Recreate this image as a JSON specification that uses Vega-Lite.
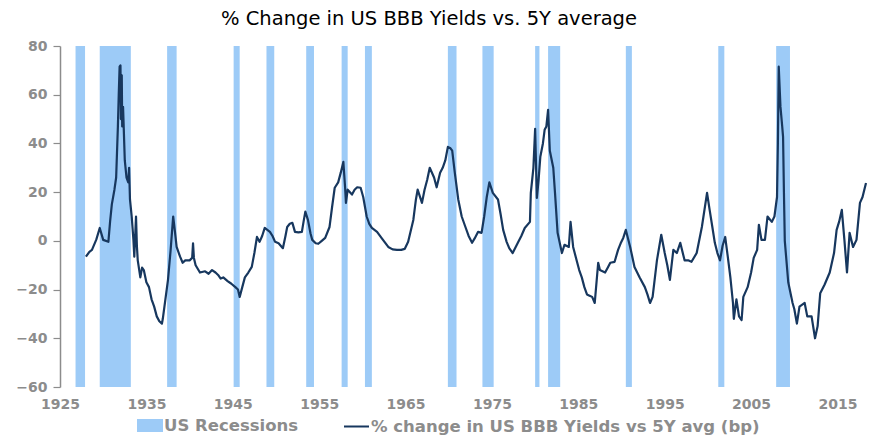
{
  "$schema": "https://vega.github.io/schema/vega-lite/v6.json",
  "autosize": {"type": "none"},
  "padding": {"left": 60, "top": 46, "right": 3, "bottom": 48},
  "width": 806,
  "height": 341,
  "background": "white",
  "title": {
    "text": "% Change in US BBB Yields vs. 5Y average",
    "font": "DejaVu Sans",
    "fontSize": 19.5,
    "fontWeight": "normal",
    "color": "#000000",
    "anchor": "middle",
    "baseline": "bottom",
    "offset": 4,
    "dy": 13,
    "dx": -34
  },
  "config": {
    "view": {"stroke": null},
    "axis": {
      "labelFont": "DejaVu Sans",
      "labelFontWeight": "bold",
      "labelFontSize": 14,
      "labelColor": "#8c8c8c",
      "grid": false,
      "title": null
    },
    "legend": {
      "labelFont": "DejaVu Sans",
      "labelFontWeight": "bold",
      "labelFontSize": 16.5,
      "labelColor": "#8c8c8c",
      "labelLimit": 600,
      "padding": 0,
      "title": null
    }
  },
  "datasets": {
    "recessions": [
      {"start": 1926.8, "end": 1927.9},
      {"start": 1929.6, "end": 1933.2},
      {"start": 1937.4, "end": 1938.5},
      {"start": 1945.1, "end": 1945.8},
      {"start": 1948.9, "end": 1949.8},
      {"start": 1953.5, "end": 1954.4},
      {"start": 1957.6, "end": 1958.3},
      {"start": 1960.3, "end": 1961.1},
      {"start": 1969.9, "end": 1970.9},
      {"start": 1973.9, "end": 1975.2},
      {"start": 1980.0, "end": 1980.5},
      {"start": 1981.5, "end": 1982.9},
      {"start": 1990.5, "end": 1991.2},
      {"start": 2001.2, "end": 2001.9},
      {"start": 2007.9, "end": 2009.5}
    ],
    "series": [
      {"year": 1928.0, "value": -6.5}, {"year": 1928.4, "value": -4.5}, {"year": 1928.7, "value": -3.7},
      {"year": 1929.2, "value": 0.5}, {"year": 1929.6, "value": 5.3}, {"year": 1930.0, "value": 0.4},
      {"year": 1930.6, "value": -0.4}, {"year": 1930.8, "value": 8}, {"year": 1931.0, "value": 15},
      {"year": 1931.3, "value": 21}, {"year": 1931.5, "value": 26}, {"year": 1931.7, "value": 46.8},
      {"year": 1931.8, "value": 60}, {"year": 1931.9, "value": 71.5}, {"year": 1932.0, "value": 72},
      {"year": 1932.05, "value": 50}, {"year": 1932.15, "value": 68}, {"year": 1932.2, "value": 47},
      {"year": 1932.3, "value": 55}, {"year": 1932.5, "value": 33}, {"year": 1932.7, "value": 26},
      {"year": 1932.9, "value": 24}, {"year": 1933.0, "value": 30}, {"year": 1933.1, "value": 17},
      {"year": 1933.3, "value": 10}, {"year": 1933.5, "value": 0.4}, {"year": 1933.6, "value": -6.5},
      {"year": 1933.8, "value": 10}, {"year": 1933.9, "value": -2}, {"year": 1934.0, "value": -8},
      {"year": 1934.3, "value": -15}, {"year": 1934.5, "value": -11}, {"year": 1934.7, "value": -12},
      {"year": 1935.0, "value": -17}, {"year": 1935.3, "value": -19}, {"year": 1935.6, "value": -24},
      {"year": 1935.9, "value": -27}, {"year": 1936.2, "value": -31}, {"year": 1936.5, "value": -33},
      {"year": 1936.8, "value": -34}, {"year": 1936.9, "value": -32}, {"year": 1937.2, "value": -24},
      {"year": 1937.5, "value": -16}, {"year": 1937.8, "value": -4}, {"year": 1938.1, "value": 10},
      {"year": 1938.3, "value": 4}, {"year": 1938.5, "value": -2.5}, {"year": 1938.9, "value": -6.5},
      {"year": 1939.2, "value": -9}, {"year": 1939.5, "value": -8}, {"year": 1940.0, "value": -8},
      {"year": 1940.3, "value": -7}, {"year": 1940.4, "value": -1}, {"year": 1940.5, "value": -7},
      {"year": 1940.7, "value": -10}, {"year": 1941.2, "value": -13}, {"year": 1941.8, "value": -12.5},
      {"year": 1942.2, "value": -13.5}, {"year": 1942.6, "value": -12}, {"year": 1943.0, "value": -13},
      {"year": 1943.3, "value": -14}, {"year": 1943.6, "value": -15.5}, {"year": 1943.9, "value": -15},
      {"year": 1944.4, "value": -16.5}, {"year": 1944.8, "value": -17.5}, {"year": 1945.3, "value": -19},
      {"year": 1945.6, "value": -20}, {"year": 1945.8, "value": -23}, {"year": 1946.1, "value": -19},
      {"year": 1946.4, "value": -15}, {"year": 1946.8, "value": -13}, {"year": 1947.2, "value": -10.7},
      {"year": 1947.5, "value": -5}, {"year": 1947.8, "value": 1.6}, {"year": 1948.1, "value": -0.4},
      {"year": 1948.4, "value": 2}, {"year": 1948.7, "value": 5.3}, {"year": 1949.0, "value": 4.5},
      {"year": 1949.3, "value": 3.7}, {"year": 1949.6, "value": 2}, {"year": 1949.9, "value": -0.4},
      {"year": 1950.3, "value": -1}, {"year": 1950.8, "value": -3}, {"year": 1951.1, "value": 2},
      {"year": 1951.3, "value": 5.7}, {"year": 1951.6, "value": 7}, {"year": 1951.9, "value": 7.4},
      {"year": 1952.2, "value": 3.7}, {"year": 1952.6, "value": 3.5}, {"year": 1953.0, "value": 3.7},
      {"year": 1953.2, "value": 8}, {"year": 1953.4, "value": 12}, {"year": 1953.7, "value": 8.6},
      {"year": 1954.0, "value": 3}, {"year": 1954.2, "value": 0.4}, {"year": 1954.6, "value": -1},
      {"year": 1954.9, "value": -1.2}, {"year": 1955.3, "value": 0}, {"year": 1955.7, "value": 1.2},
      {"year": 1956.2, "value": 5.7}, {"year": 1956.5, "value": 14}, {"year": 1956.8, "value": 21.8},
      {"year": 1957.2, "value": 24}, {"year": 1957.5, "value": 28}, {"year": 1957.8, "value": 32.4},
      {"year": 1958.0, "value": 22}, {"year": 1958.1, "value": 15.6}, {"year": 1958.3, "value": 21},
      {"year": 1958.8, "value": 19}, {"year": 1959.1, "value": 21}, {"year": 1959.4, "value": 22},
      {"year": 1959.8, "value": 21.8}, {"year": 1960.1, "value": 18}, {"year": 1960.5, "value": 10},
      {"year": 1960.8, "value": 7}, {"year": 1961.1, "value": 5.3}, {"year": 1961.7, "value": 3.7},
      {"year": 1962.3, "value": 0.8}, {"year": 1963.0, "value": -2.5}, {"year": 1963.5, "value": -3.5},
      {"year": 1964.0, "value": -3.7}, {"year": 1964.5, "value": -3.7}, {"year": 1964.9, "value": -3.3},
      {"year": 1965.3, "value": -0.4}, {"year": 1965.9, "value": 8.6}, {"year": 1966.2, "value": 17},
      {"year": 1966.4, "value": 21}, {"year": 1966.9, "value": 15.6}, {"year": 1967.2, "value": 21},
      {"year": 1967.5, "value": 25}, {"year": 1967.8, "value": 30}, {"year": 1968.3, "value": 26},
      {"year": 1968.6, "value": 22}, {"year": 1969.0, "value": 28}, {"year": 1969.3, "value": 30},
      {"year": 1969.6, "value": 33}, {"year": 1969.9, "value": 38.6}, {"year": 1970.2, "value": 38},
      {"year": 1970.4, "value": 37}, {"year": 1970.7, "value": 28}, {"year": 1971.1, "value": 17},
      {"year": 1971.5, "value": 10}, {"year": 1971.9, "value": 6}, {"year": 1972.3, "value": 2},
      {"year": 1972.7, "value": -0.8}, {"year": 1973.0, "value": 1}, {"year": 1973.4, "value": 3.7},
      {"year": 1973.8, "value": 3.3}, {"year": 1974.1, "value": 10}, {"year": 1974.4, "value": 18},
      {"year": 1974.7, "value": 24}, {"year": 1975.1, "value": 19.7}, {"year": 1975.7, "value": 17},
      {"year": 1976.0, "value": 11}, {"year": 1976.3, "value": 4.5}, {"year": 1976.7, "value": -0.4},
      {"year": 1977.0, "value": -3}, {"year": 1977.4, "value": -5}, {"year": 1978.0, "value": -0.8},
      {"year": 1978.4, "value": 2}, {"year": 1978.8, "value": 5.3}, {"year": 1979.4, "value": 7.8},
      {"year": 1979.5, "value": 19.7}, {"year": 1979.8, "value": 30}, {"year": 1980.0, "value": 46},
      {"year": 1980.2, "value": 17.6}, {"year": 1980.4, "value": 25}, {"year": 1980.6, "value": 34.5},
      {"year": 1980.9, "value": 40}, {"year": 1981.1, "value": 45.6}, {"year": 1981.3, "value": 47},
      {"year": 1981.5, "value": 53.8}, {"year": 1981.7, "value": 37}, {"year": 1982.1, "value": 30},
      {"year": 1982.3, "value": 19.7}, {"year": 1982.6, "value": 3.3}, {"year": 1983.1, "value": -5},
      {"year": 1983.4, "value": -1.6}, {"year": 1983.9, "value": -2.5}, {"year": 1984.1, "value": 7.8},
      {"year": 1984.4, "value": -2.5}, {"year": 1984.8, "value": -8}, {"year": 1985.1, "value": -12},
      {"year": 1985.4, "value": -15}, {"year": 1985.7, "value": -19}, {"year": 1986.0, "value": -22},
      {"year": 1986.3, "value": -22.5}, {"year": 1986.6, "value": -23}, {"year": 1986.9, "value": -25.5},
      {"year": 1987.3, "value": -9}, {"year": 1987.5, "value": -12}, {"year": 1988.1, "value": -13},
      {"year": 1988.4, "value": -11}, {"year": 1988.7, "value": -9}, {"year": 1989.2, "value": -8.6},
      {"year": 1989.6, "value": -3.7}, {"year": 1989.9, "value": -1}, {"year": 1990.2, "value": 1.2},
      {"year": 1990.5, "value": 4.5}, {"year": 1991.0, "value": -2.5}, {"year": 1991.5, "value": -10.7},
      {"year": 1992.1, "value": -15}, {"year": 1992.7, "value": -19}, {"year": 1993.0, "value": -22},
      {"year": 1993.3, "value": -25.5}, {"year": 1993.6, "value": -23}, {"year": 1994.1, "value": -8},
      {"year": 1994.6, "value": 2.5}, {"year": 1995.0, "value": -5}, {"year": 1995.3, "value": -10},
      {"year": 1995.6, "value": -16}, {"year": 1996.0, "value": -3.7}, {"year": 1996.4, "value": -5},
      {"year": 1996.8, "value": -0.8}, {"year": 1997.3, "value": -8}, {"year": 1997.7, "value": -8},
      {"year": 1998.1, "value": -8.6}, {"year": 1998.7, "value": -5}, {"year": 1999.3, "value": 5.7},
      {"year": 1999.9, "value": 19.7}, {"year": 2000.2, "value": 12.7}, {"year": 2000.5, "value": 6},
      {"year": 2000.8, "value": -0.8}, {"year": 2001.1, "value": -5}, {"year": 2001.4, "value": -8},
      {"year": 2001.7, "value": -2}, {"year": 2002.0, "value": 1.6}, {"year": 2002.3, "value": -6.5},
      {"year": 2002.6, "value": -15}, {"year": 2002.9, "value": -25.5}, {"year": 2003.0, "value": -32},
      {"year": 2003.3, "value": -24}, {"year": 2003.6, "value": -31}, {"year": 2003.9, "value": -32.5},
      {"year": 2004.1, "value": -23}, {"year": 2004.6, "value": -19}, {"year": 2005.0, "value": -13},
      {"year": 2005.3, "value": -7}, {"year": 2005.7, "value": -3.7}, {"year": 2005.9, "value": 6.6},
      {"year": 2006.2, "value": 0.4}, {"year": 2006.6, "value": 0.4}, {"year": 2006.9, "value": 10},
      {"year": 2007.4, "value": 7.8}, {"year": 2007.7, "value": 10}, {"year": 2008.0, "value": 18},
      {"year": 2008.1, "value": 40}, {"year": 2008.2, "value": 71.5}, {"year": 2008.4, "value": 55},
      {"year": 2008.6, "value": 47}, {"year": 2008.7, "value": 42.7}, {"year": 2008.8, "value": 20},
      {"year": 2008.9, "value": 0}, {"year": 2009.3, "value": -17}, {"year": 2009.8, "value": -25.5},
      {"year": 2010.0, "value": -28}, {"year": 2010.3, "value": -34}, {"year": 2010.6, "value": -27},
      {"year": 2011.2, "value": -25.5}, {"year": 2011.5, "value": -31}, {"year": 2012.0, "value": -31},
      {"year": 2012.4, "value": -40}, {"year": 2012.7, "value": -35}, {"year": 2013.0, "value": -21.5},
      {"year": 2013.5, "value": -18}, {"year": 2014.1, "value": -13}, {"year": 2014.6, "value": -5},
      {"year": 2014.9, "value": 4.5}, {"year": 2015.2, "value": 8}, {"year": 2015.5, "value": 12.7},
      {"year": 2015.8, "value": 0.4}, {"year": 2016.1, "value": -13}, {"year": 2016.4, "value": 3.3},
      {"year": 2016.8, "value": -2.5}, {"year": 2017.2, "value": 0.4}, {"year": 2017.6, "value": 15.6},
      {"year": 2017.9, "value": 18}, {"year": 2018.3, "value": 23.8}
    ]
  },
  "layer": [
    {
      "data": {"name": "recessions"},
      "mark": {"type": "rect"},
      "encoding": {
        "x": {
          "field": "start", "type": "quantitative",
          "scale": {"domain": [1925, 2018.3], "nice": false, "zero": false},
          "axis": {
            "values": [1925, 1935, 1945, 1955, 1965, 1975, 1985, 1995, 2005, 2015],
            "format": "d", "labelFlush": false, "domain": false, "ticks": false,
            "labelPadding": 10
          }
        },
        "x2": {"field": "end"},
        "fill": {
          "datum": "US Recessions",
          "scale": {"range": ["#9dcbf7"]},
          "legend": {
            "orient": "none", "legendX": 77, "legendY": 366.5,
            "symbolType": "M-1,-0.5H1V0.5H-1Z", "symbolSize": 676,
            "symbolStrokeWidth": 0, "labelOffset": 1
          }
        }
      }
    },
    {
      "mark": {"type": "rule", "color": "#7f7f7f", "strokeWidth": 1},
      "encoding": {
        "y": {"datum": 0, "type": "quantitative", "scale": {"domain": [-60, 80], "nice": false}}
      }
    },
    {
      "data": {"name": "series"},
      "mark": {"type": "line", "strokeWidth": 2.2, "strokeJoin": "round"},
      "encoding": {
        "x": {"field": "year", "type": "quantitative", "scale": {"domain": [1925, 2018.3], "nice": false, "zero": false}},
        "y": {
          "field": "value", "type": "quantitative",
          "scale": {"domain": [-60, 80], "nice": false},
          "axis": {
            "values": [-60, -40, -20, 0, 20, 40, 60, 80],
            "domainColor": "#8c8c8c", "domainWidth": 1.5,
            "tickColor": "#8c8c8c", "tickSize": 7, "tickWidth": 1.2,
            "labelPadding": 6
          }
        },
        "stroke": {
          "datum": "% change in US BBB Yields vs 5Y avg (bp)",
          "scale": {"range": ["#17375e"]},
          "legend": {
            "orient": "none", "legendX": 283, "legendY": 367,
            "symbolType": "stroke", "symbolSize": 625,
            "symbolStrokeWidth": 2, "labelOffset": 1
          }
        }
      }
    }
  ]
}
